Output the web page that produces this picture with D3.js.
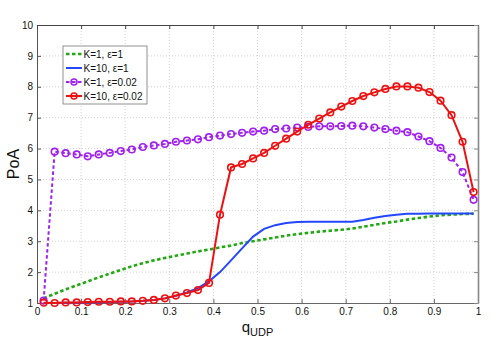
<!DOCTYPE html>
<html>
<head>
<meta charset="utf-8">
<script src="https://cdn.jsdelivr.net/npm/d3@7"></script>
<style>
  body { margin: 0; background: #fff; }
  svg text { font-family: "Liberation Sans", Arial, sans-serif; fill: #111; }
</style>
</head>
<body>
<div id="chart-container"></div>
<script>
// sample positions of q_UDP (shared by all four curves)
const qUdp = [0.015, 0.04, 0.065, 0.09, 0.115, 0.14, 0.165, 0.19, 0.215, 0.24,
              0.265, 0.29, 0.315, 0.34, 0.365, 0.39, 0.415, 0.44, 0.465, 0.49,
              0.515, 0.54, 0.565, 0.59, 0.615, 0.64, 0.665, 0.69, 0.715, 0.74,
              0.765, 0.79, 0.815, 0.84, 0.865, 0.89, 0.915, 0.94, 0.965, 0.99];

const poaK1Eps1 = [1.15, 1.30, 1.44, 1.57, 1.70, 1.83, 1.95, 2.07, 2.19, 2.29,
                   2.38, 2.46, 2.53, 2.60, 2.67, 2.73, 2.80, 2.86, 2.94, 3.00,
                   3.06, 3.12, 3.18, 3.23, 3.27, 3.31, 3.34, 3.37, 3.41, 3.47,
                   3.53, 3.59, 3.64, 3.70, 3.75, 3.80, 3.84, 3.86, 3.88, 3.89];

const poaK10Eps1 = [1.00, 1.00, 1.01, 1.01, 1.02, 1.02, 1.03, 1.04, 1.05, 1.07,
                    1.10, 1.15, 1.23, 1.34, 1.48, 1.70, 2.00, 2.38, 2.77, 3.15,
                    3.40, 3.52, 3.59, 3.62, 3.63, 3.63, 3.63, 3.63, 3.63, 3.69,
                    3.76, 3.82, 3.86, 3.89, 3.89, 3.90, 3.90, 3.90, 3.90, 3.90];

const poaK1Eps002 = [1.08, 5.90, 5.85, 5.81, 5.75, 5.81, 5.86, 5.92, 5.97, 6.05,
                     6.10, 6.15, 6.22, 6.26, 6.30, 6.37, 6.42, 6.47, 6.51, 6.55,
                     6.58, 6.63, 6.65, 6.68, 6.70, 6.72, 6.72, 6.73, 6.74, 6.72,
                     6.68, 6.63, 6.58, 6.53, 6.39, 6.24, 6.02, 5.71, 5.24, 4.34];

const poaK10Eps002 = [1.01, 1.00, 1.02, 1.02, 1.03, 1.04, 1.04, 1.05, 1.05, 1.07,
                      1.10, 1.15, 1.24, 1.32, 1.42, 1.65, 3.86, 5.39, 5.50, 5.68,
                      5.86, 6.09, 6.32, 6.55, 6.77, 6.97, 7.17, 7.36, 7.54, 7.70,
                      7.82, 7.93, 8.01, 8.01, 7.97, 7.83, 7.55, 7.08, 6.22, 4.59];

const seriesNames = ["K=1, \u03b5=1", "K=10, \u03b5=1", "K=1, \u03b5=0.02", "K=10, \u03b5=0.02"];

const xTicks = [0, 0.1, 0.2, 0.3, 0.4, 0.5, 0.6, 0.7, 0.8, 0.9, 1];
const xTickLabels = ["0", "0.1", "0.2", "0.3", "0.4", "0.5", "0.6", "0.7", "0.8", "0.9", "1"];
const yTicks = [1, 2, 3, 4, 5, 6, 7, 8, 9, 10];

// style per series, same order as seriesNames
const styles = [
    {values: poaK1Eps1, color: '#22a812', width: 2.6, dash: '3.5,2.5', marker: false},
    {values: poaK10Eps1, color: '#2546ff', width: 2, dash: null, marker: false},
    {values: poaK1Eps002, color: '#a020f0', width: 2, dash: '3.5,2.5', marker: true},
    {values: poaK10Eps002, color: '#ee1111', width: 2, dash: null, marker: true}
];

const width = 491, height = 342;
const margin = {top: 25, right: 13, bottom: 39, left: 37};
const plotW = width - margin.left - margin.right;
const plotH = height - margin.top - margin.bottom;

const svg = d3.select('#chart-container').append('svg')
    .attr('width', width)
    .attr('height', height);

const xScale = d3.scaleLinear().domain([0, 1]).range([0, plotW]);
const yScale = d3.scaleLinear().domain([1, 10]).range([plotH, 0]);

const g = svg.append('g').attr('transform', `translate(${margin.left},${margin.top})`);

// dotted grid
const grid = g.append('g').attr('class', 'grid')
    .style('stroke', '#c8c8c8')
    .style('stroke-width', 0.8)
    .style('stroke-dasharray', '1,2');
grid.selectAll('line.vx').data(xTicks.slice(1, -1)).enter().append('line')
    .attr('x1', d => xScale(d)).attr('x2', d => xScale(d))
    .attr('y1', 0).attr('y2', plotH);
grid.selectAll('line.hy').data(yTicks.slice(1, -1)).enter().append('line')
    .attr('x1', 0).attr('x2', plotW)
    .attr('y1', d => yScale(d)).attr('y2', d => yScale(d));

// axes, MATLAB style: inward ticks on all four sides
const styleAxis = (sel, color, w) => {
    sel.select('.domain').attr('stroke', color).attr('stroke-width', w);
    sel.selectAll('.tick line').attr('stroke', color);
    sel.selectAll('.tick text').style('font-size', '10px').attr('fill', '#111');
};

g.append('g')
    .attr('transform', `translate(0,${plotH})`)
    .call(d3.axisBottom(xScale).tickValues(xTicks)
        .tickFormat((d, i) => xTickLabels[i])
        .tickSizeInner(-4).tickSizeOuter(0).tickPadding(5))
    .call(styleAxis, '#666', 1.2);

g.append('g')
    .call(d3.axisLeft(yScale).tickValues(yTicks)
        .tickFormat(d3.format('d'))
        .tickSizeInner(-4).tickSizeOuter(0).tickPadding(4))
    .call(styleAxis, '#555', 1);

g.append('g')
    .call(d3.axisTop(xScale).tickValues(xTicks).tickFormat('')
        .tickSizeInner(-4).tickSizeOuter(0))
    .call(styleAxis, '#444', 1);

g.append('g')
    .attr('transform', `translate(${plotW},0)`)
    .call(d3.axisRight(yScale).tickValues(yTicks).tickFormat('')
        .tickSizeInner(-4).tickSizeOuter(0))
    .call(styleAxis, '#888', 1.6);

// curves
const line = d3.line()
    .x((d, i) => xScale(qUdp[i]))
    .y(d => yScale(d));

styles.forEach(s => {
    g.append('path')
        .datum(s.values)
        .attr('d', line)
        .style('fill', 'none')
        .style('stroke', s.color)
        .style('stroke-width', s.width)
        .style('stroke-dasharray', s.dash);

    if (s.marker) {
        g.append('g')
            .selectAll('circle')
            .data(s.values)
            .enter()
            .append('circle')
            .attr('cx', (d, i) => xScale(qUdp[i]))
            .attr('cy', d => yScale(d))
            .attr('r', 3.3)
            .style('fill', 'none')
            .style('stroke', s.color)
            .style('stroke-width', 1.6);
    }
});

// axis labels
svg.append('text')
    .attr('transform', `translate(19,${margin.top + plotH / 2}) rotate(-90)`)
    .attr('text-anchor', 'middle')
    .style('font-size', '16px')
    .text('PoA');

const xl = svg.append('text')
    .attr('x', margin.left + plotW / 2)
    .attr('y', 332)
    .attr('text-anchor', 'middle')
    .style('font-size', '15px');
xl.append('tspan').text('q');
xl.append('tspan').attr('dy', 4).style('font-size', '11px').text('UDP');

// legend
const legend = svg.append('g').attr('transform', 'translate(63,46)');
legend.append('rect')
    .attr('width', 84).attr('height', 58)
    .style('fill', '#fff')
    .style('stroke', '#777')
    .style('stroke-width', 0.8);

const rows = legend.selectAll('g.row')
    .data(styles)
    .enter()
    .append('g')
    .attr('transform', (d, i) => `translate(0,${8 + i * 14})`);

rows.append('line')
    .attr('x1', 3).attr('x2', 19)
    .attr('y1', 0).attr('y2', 0)
    .style('stroke', d => d.color)
    .style('stroke-width', d => d.width)
    .style('stroke-dasharray', d => d.dash);

rows.filter(d => d.marker)
    .append('circle')
    .attr('cx', 11).attr('cy', 0).attr('r', 3)
    .style('fill', 'none')
    .style('stroke', d => d.color)
    .style('stroke-width', 1.5);

rows.append('text')
    .attr('x', 20.5).attr('y', 0)
    .attr('dy', '0.35em')
    .style('font-size', '10px')
    .text((d, i) => seriesNames[i]);
</script>
</body>
</html>
